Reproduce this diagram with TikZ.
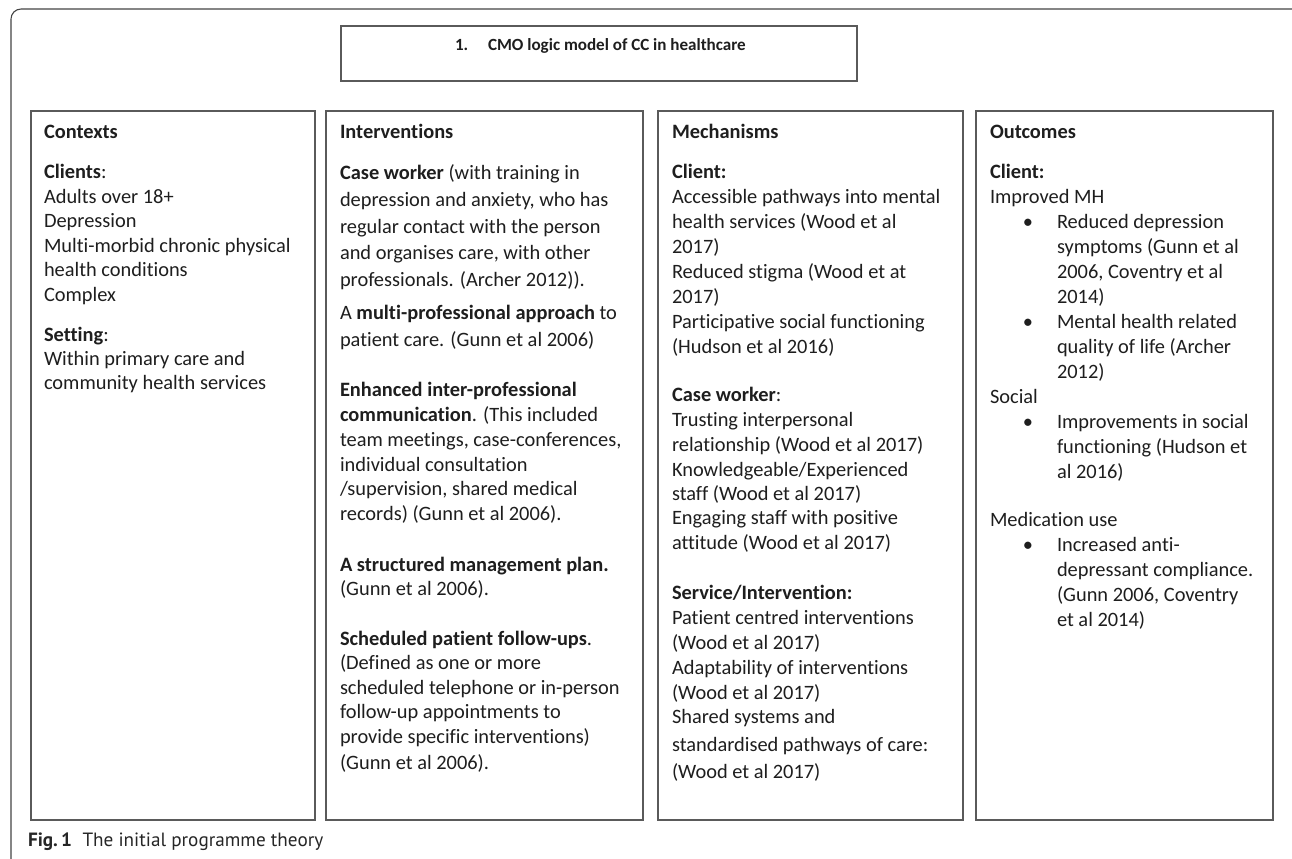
\documentclass[tikz,border=0pt]{standalone}
\usepackage{fontspec}
\setmainfont{Carlito}[Ligatures=NoCommon]
\newfontfamily\capfont{PT Sans}
\usetikzlibrary{fit}
\definecolor{txtc}{HTML}{1E1E1E}
\definecolor{boxc}{HTML}{5A5A5A}
\definecolor{framec}{HTML}{444444}
\tikzset{
  txt/.style={anchor=base west, inner sep=0pt, outer sep=0pt, text=txtc, font=\fontsize{15.3}{18}\selectfont},
  ttl/.style={anchor=base west, inner sep=0pt, outer sep=0pt, text=txtc, font=\fontsize{12.8}{15}\selectfont\bfseries},
  bul/.style={anchor=base, inner sep=0pt, outer sep=0pt, text=txtc, font=\fontsize{15.3}{18}\selectfont},
  colbox/.style={draw=boxc, line width=1.1pt, inner sep=0pt, outer sep=0pt},
  frameline/.style={draw=framec, line width=0.8pt, rounded corners=7.5pt},
  captxt/.style={anchor=base west, inner sep=0pt, outer sep=0pt, text=black!85, font=\capfont\fontsize{14.4}{16}\selectfont}
}
\newcommand{\putline}[4]{\node[txt] (#1) at (#2,{#3+6.5}) {#4};}
\newcommand{\putbul}[3]{\node[bul] (#1) at (#2,{#3+6.5}) {\textbullet};}
\begin{document}
\begin{tikzpicture}[x=0.75pt,y=-0.75pt]
\useasboundingbox (0,0) rectangle (1292,858);
\fill[white] (0,0) rectangle (1292,858);
\draw[frameline] (11,880) -- (11,9) -- (1302,9) -- (1302,880);

% boxes
\node[colbox, fit={(341,26) (857,81)}] (titlebox) {};
\node[colbox, fit={(31,111) (315,820)}] (ctxbox) {};
\node[colbox, fit={(326,111) (643,820)}] (intbox) {};
\node[colbox, fit={(658,111) (963,820)}] (mechbox) {};
\node[colbox, fit={(976,111) (1273,820)}] (outbox) {};

% title
\node[ttl] (tnum) at (455,50) {1.};
\node[ttl] (ttext) at (488,50) {CMO logic model of CC in healthcare};

% Contexts
\putline{c0}{44}{132}{\textbf{Contexts}}
\putline{c1}{44}{172}{\textbf{Clients}:}
\putline{c2}{44}{197}{Adults over 18+}
\putline{c3}{44}{221}{Depression}
\putline{c4}{44}{246}{Multi-morbid chronic physical}
\putline{c5}{44}{270}{health conditions}
\putline{c6}{44}{295}{Complex}
\putline{c7}{44}{335}{\textbf{Setting}:}
\putline{c8}{44}{359}{Within primary care and}
\putline{c9}{44}{383}{community health services}

% Interventions
\putline{i0}{340}{132}{\textbf{Interventions}}
\putline{i1}{340}{173}{\textbf{Case worker} (with training in}
\putline{i2}{340}{200}{depression and anxiety, who has}
\putline{i3}{340}{227}{regular contact with the person}
\putline{i4}{340}{253}{and organises care, with other}
\putline{i5}{340}{280}{professionals. (Archer 2012)).}
\putline{i6}{340}{313}{A \textbf{multi-professional approach} to}
\putline{i7}{340}{340}{patient care. (Gunn et al 2006)}
\putline{i8}{340}{390}{\textbf{Enhanced inter-professional}}
\putline{i9}{340}{415}{\textbf{communication}. (This included}
\putline{i10}{340}{440}{team meetings, case-conferences,}
\putline{i11}{340}{465}{individual consultation}
\putline{i12}{340}{489}{/supervision, shared medical}
\putline{i13}{340}{514}{records) (Gunn et al 2006).}
\putline{i14}{340}{565}{\textbf{A structured management plan.}}
\putline{i15}{340}{589}{(Gunn et al 2006).}
\putline{i16}{340}{639}{\textbf{Scheduled patient follow-ups}.}
\putline{i17}{340}{663}{(Defined as one or more}
\putline{i18}{340}{688}{scheduled telephone or in-person}
\putline{i19}{340}{712}{follow-up appointments to}
\putline{i20}{340}{737}{provide specific interventions)}
\putline{i21}{340}{763}{(Gunn et al 2006).}

% Mechanisms
\putline{m0}{672}{132}{\textbf{Mechanisms}}
\putline{m1}{672}{172}{\textbf{Client:}}
\putline{m2}{672}{197}{Accessible pathways into mental}
\putline{m3}{672}{222}{health services (Wood et al}
\putline{m4}{672}{247}{2017)}
\putline{m5}{672}{272}{Reduced stigma (Wood et at}
\putline{m6}{672}{297}{2017)}
\putline{m7}{672}{322}{Participative social functioning}
\putline{m8}{672}{347}{(Hudson et al 2016)}
\putline{m9}{672}{395}{\textbf{Case worker}:}
\putline{m10}{672}{420}{Trusting interpersonal}
\putline{m11}{672}{445}{relationship (Wood et al 2017)}
\putline{m12}{672}{470}{Knowledgeable/Experienced}
\putline{m13}{672}{494}{staff (Wood et al 2017)}
\putline{m14}{672}{518}{Engaging staff with positive}
\putline{m15}{672}{543}{attitude (Wood et al 2017)}
\putline{m16}{672}{593}{\textbf{Service/Intervention:}}
\putline{m17}{672}{618}{Patient centred interventions}
\putline{m18}{672}{643}{(Wood et al 2017)}
\putline{m19}{672}{668}{Adaptability of interventions}
\putline{m20}{672}{693}{(Wood et al 2017)}
\putline{m21}{672}{717}{Shared systems and}
\putline{m22}{672}{745}{standardised pathways of care:}
\putline{m23}{672}{772}{(Wood et al 2017)}

% Outcomes
\putline{o0}{990}{132}{\textbf{Outcomes}}
\putline{o1}{990}{172}{\textbf{Client:}}
\putline{o2}{990}{197}{Improved MH}
\putbul{ob1}{1028}{222}
\putline{o3}{1057}{222}{Reduced depression}
\putline{o4}{1057}{247}{symptoms (Gunn et al}
\putline{o5}{1057}{272}{2006, Coventry et al}
\putline{o6}{1057}{297}{2014)}
\putbul{ob2}{1028}{322}
\putline{o7}{1057}{322}{Mental health related}
\putline{o8}{1057}{347}{quality of life (Archer}
\putline{o9}{1057}{372}{2012)}
\putline{o10}{990}{397}{Social}
\putbul{ob3}{1028}{422}
\putline{o11}{1057}{422}{Improvements in social}
\putline{o12}{1057}{447}{functioning (Hudson et}
\putline{o13}{1057}{472}{al 2016)}
\putline{o14}{990}{520}{Medication use}
\putbul{ob4}{1028}{545}
\putline{o15}{1057}{545}{Increased anti-}
\putline{o16}{1057}{570}{depressant compliance.}
\putline{o17}{1057}{595}{(Gunn 2006, Coventry}
\putline{o18}{1057}{620}{et al 2014)}

% caption
\node[captxt] (caption) at (28,846) {\textbf{Fig.\,1}\hspace{0.55em}The initial programme theory};
\end{tikzpicture}
\end{document}
